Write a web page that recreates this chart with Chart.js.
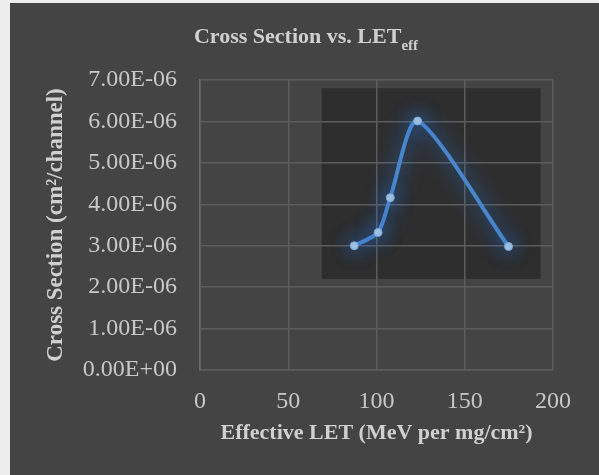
<!DOCTYPE html>
<html>
<head>
<meta charset="utf-8">
<script src="https://cdn.jsdelivr.net/npm/chart.js@4"></script>
<style>
  html, body { margin: 0; padding: 0; background: #ededed; }
  #wrap { position: absolute; left: 10px; top: 3px; width: 589px; height: 472px; }
</style>
</head>
<body>
<div id="wrap"><canvas id="myChart" width="589" height="472"></canvas></div>
<script>
// data
const letValues = [87.4, 100.9, 107.8, 123.3, 174.8];
const crossSection = [3.0e-6, 3.32e-6, 4.16e-6, 6.01e-6, 2.98e-6];
const xTicks = [0, 50, 100, 150, 200];
const yTicks = [0, 1e-6, 2e-6, 3e-6, 4e-6, 5e-6, 6e-6, 7e-6];

const titleMain = 'Cross Section vs. LET';
const titleSub = 'eff';
const xTitle = 'Effective LET (MeV per mg/cm²)';
const yTitle = 'Cross Section (cm²/channel)';

// darker glow box behind the series, in data units
const glowBox = {x0: 69, x1: 193, y0: 2.2e-6, y1: 6.8e-6};

const serif = "'Liberation Serif', 'Times New Roman', serif";
const bg = '#444444';

function sci(v) {
    let s = Number(v).toExponential(2).toUpperCase();
    return s.replace(/E([+-])(\d)$/, 'E$10$2');
}

const points = letValues.map((x, i) => ({x: x, y: crossSection[i]}));

const backdrop = {
    id: 'backdrop',
    beforeDraw(chart) {
        const ctx = chart.ctx;
        const xs = chart.scales.x, ys = chart.scales.y;
        ctx.save();
        ctx.fillStyle = bg;
        ctx.fillRect(0, 0, chart.width, chart.height);
        ctx.fillStyle = '#2e2e2e';
        const l = xs.getPixelForValue(glowBox.x0), r = xs.getPixelForValue(glowBox.x1);
        const t = ys.getPixelForValue(glowBox.y1), b = ys.getPixelForValue(glowBox.y0);
        ctx.fillRect(l, t, r - l, b - t);
        ctx.restore();
    },
    afterDraw(chart) {
        // title with subscript
        const ctx = chart.ctx;
        ctx.save();
        ctx.fillStyle = '#d0d0d0';
        ctx.textBaseline = 'alphabetic';
        ctx.font = 'bold 22px ' + serif;
        const w1 = ctx.measureText(titleMain).width;
        ctx.font = 'bold 15px ' + serif;
        const w2 = ctx.measureText(titleSub).width;
        const x0 = 296 - (w1 + w2) / 2;
        ctx.font = 'bold 22px ' + serif;
        ctx.textAlign = 'left';
        ctx.fillText(titleMain, x0, 40);
        ctx.font = 'bold 15px ' + serif;
        ctx.fillText(titleSub, x0 + w1, 47);
        ctx.restore();
    },
    beforeDatasetDraw(chart) {
        chart.ctx.save();
        chart.ctx.shadowColor = 'rgba(40, 125, 235, 1)';
        chart.ctx.shadowBlur = 20;
    },
    afterDatasetDraw(chart) {
        chart.ctx.restore();
    }
};

new Chart(document.getElementById('myChart'), {
    type: 'line',
    data: {
        datasets: [{
            data: points,
            borderColor: '#4a86cc',
            borderWidth: 4,
            tension: 0.24,
            pointRadius: 4,
            pointBackgroundColor: '#a3c0e0',
            pointBorderColor: '#7aa6d8',
            pointBorderWidth: 1,
            fill: false
        }]
    },
    plugins: [backdrop],
    options: {
        responsive: false,
        animation: false,
        layout: {padding: {left: 0, right: 46, top: 77, bottom: 0}},
        plugins: {
            legend: {display: false},
            title: {display: false},
            tooltip: {enabled: false}
        },
        scales: {
            x: {
                type: 'linear',
                min: 0,
                max: 200,
                afterBuildTicks: s => { s.ticks = xTicks.map(v => ({value: v})); },
                afterFit: s => { s.height = 105; },
                grid: {color: '#5c5c5c', lineWidth: 1.5, drawTicks: false},
                border: {color: '#5c5c5c', width: 1.5},
                ticks: {color: '#c8c8c8', padding: 17, font: {family: serif, size: 24}},
                title: {
                    display: true,
                    text: xTitle,
                    color: '#d0d0d0',
                    padding: {top: 0, bottom: 28},
                    font: {family: serif, size: 22, weight: 'bold'}
                }
            },
            y: {
                min: 0,
                max: 7e-6,
                afterBuildTicks: s => { s.ticks = yTicks.map(v => ({value: v})); },
                afterFit: s => { s.width = 190; },
                grid: {color: '#5c5c5c', lineWidth: 1.5, drawTicks: false},
                border: {color: '#6c6c6c', width: 1.5},
                ticks: {
                    color: '#c8c8c8',
                    padding: 23,
                    font: {family: serif, size: 24},
                    callback: v => sci(v)
                },
                title: {
                    display: true,
                    text: yTitle,
                    color: '#d0d0d0',
                    padding: {top: 32, bottom: 0},
                    font: {family: serif, size: 23, weight: 'bold'}
                }
            }
        }
    }
});
</script>
</body>
</html>
